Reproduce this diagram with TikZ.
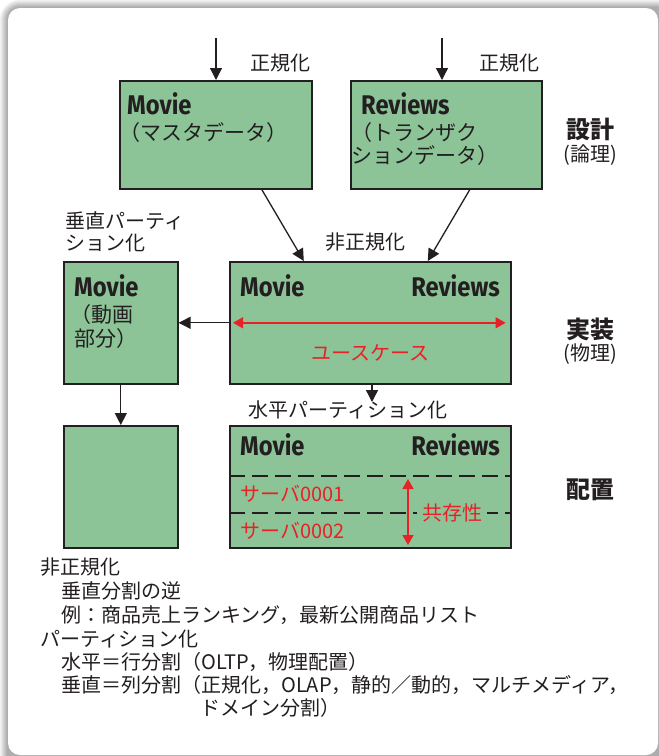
\documentclass[tikz,border=0pt]{standalone}
\usepackage{fontspec}
\usetikzlibrary{arrows.meta}
\newfontfamily\jp{Noto Sans CJK JP}
\newfontfamily\hd[FakeStretch=0.88]{Fira Sans}
\definecolor{boxgreen}{RGB}{140,196,152}
\definecolor{ared}{RGB}{232,33,39}
\definecolor{ink}{RGB}{35,31,32}
\tikzset{
  tbl/.style={draw=ink, line width=1.6pt, fill=boxgreen, inner sep=0pt, anchor=north west},
  jpt/.style={font=\jp\fontsize{20}{24}\selectfont, inner sep=0pt, text=ink},
  jpbox/.style={font=\jp\fontsize{21}{24}\selectfont, inner sep=0pt, text=ink},
  jpred/.style={font=\jp\fontsize{20}{24}\selectfont, inner sep=0pt, text=ared},
  layer/.style={font=\jp\bfseries\fontsize{24}{28}\selectfont, inner sep=0pt, text=ink},
  hdt/.style={font=\hd\bfseries\fontsize{27}{30}\selectfont, inner sep=0pt, text=ink},
  arr/.style={-{Triangle[length=12pt,width=12pt]}, line width=1.3pt, draw=ink},
  rarr/.style={{Triangle[length=10pt,width=11pt]}-{Triangle[length=10pt,width=11pt]}, line width=1.4pt, draw=ared},
  dline/.style={draw=ink, line width=2.2pt, dash pattern=on 16pt off 7pt}
}
\begin{document}
\begin{tikzpicture}[x=1pt,y=-1pt]
\useasboundingbox (0,0) rectangle (659,756);
\clip (0,0) rectangle (659,756);
% frame with shadow
\fill[white] (0,0) rectangle (659,756);
\foreach \i/\c in {8/5,7/9,6/13,5/17,4/21,3/25,2/29,1/32}{
  \fill[black!\c, rounded corners=12+\i] (8-\i,8-\i) rectangle (700,800);
}
\fill[white, rounded corners=12] (8,8) rectangle (658,755);

% design layer
\node[tbl, minimum width=192pt, minimum height=108pt] (mvA) at (119,80) {};
\node[tbl, minimum width=191pt, minimum height=108pt] (rvA) at (350,80) {};
\node[hdt, anchor=base west] (mvAt) at (127,114) {Movie};
\node[jpbox, anchor=west] (mvAj) at (119,133) {（マスタデータ）};
\node[hdt, anchor=base west] (rvAt) at (361,114) {Reviews};
\node[jpbox, anchor=west] (rvAj1) at (351,133) {（トランザク};
\node[jpbox, anchor=west] (rvAj2) at (351,156) {ションデータ）};

\coordinate (inA) at (216,38);
\coordinate (inB) at (442,38);
\draw[arr] (inA) -- (inA |- mvA.north);
\draw[arr] (inB) -- (inB |- rvA.north);
\node[jpt, anchor=west] (nrmA) at (250,63) {正規化};
\node[jpt, anchor=west] (nrmB) at (479,63) {正規化};

\node[layer] (l1) at (590,129) {設計};
\node[jpt] (l1b) at (590,155) {(論理)};

% implementation layer
\node[tbl, minimum width=114pt, minimum height=122pt] (mvB) at (63,261) {};
\node[tbl, minimum width=281pt, minimum height=122pt] (mid) at (229,261) {};
\node[hdt, anchor=base west] (mvBt) at (74,296) {Movie};
\node[jpbox, anchor=west] (mvBj1) at (70,315) {（動画};
\node[jpbox, anchor=west] (mvBj2) at (74,339) {部分）};
\node[hdt, anchor=base west] (midA) at (240,296) {Movie};
\node[hdt, anchor=base east] (midB) at (500,296) {Reviews};
\draw[rarr] ([xshift=4pt]mid.west) -- ([xshift=-6pt]mid.east);
\node[jpred] (uc) at (370,353) {ユースケース};

\draw[arr] ([xshift=46pt]mvA.south) -- ([xshift=-66.5pt]mid.north);
\draw[arr] ([xshift=23.5pt]rvA.south) -- ([xshift=57.5pt]mid.north);
\node[jpt] (dn) at (365,242) {非正規化};
\node[jpt, anchor=west, align=left, font=\jp\fontsize{20}{21.5}\selectfont] (vp) at (65,232) {垂直パーティ\\ション化};
\draw[arr] (mid.west) -- (mvB.east);

\node[layer] (l2) at (590,329) {実装};
\node[jpt] (l2b) at (590,354) {(物理)};

% placement layer
\node[tbl, minimum width=114pt, minimum height=122pt] (plain) at (63,425) {};
\node[tbl, minimum width=281pt, minimum height=122pt] (bot) at (229,425) {};
\draw[arr] (mvB.south) -- (plain.north);
\coordinate (hpEnd) at (372,402);
\draw[arr] (hpEnd |- mid.south) -- (hpEnd);
\node[jpt, anchor=west] (hp) at (248,410) {水平パーティション化};

\node[hdt, anchor=base west] (botA) at (240,455) {Movie};
\node[hdt, anchor=base east] (botB) at (500,455) {Reviews};
\draw[dline] (bot.west |- 0,476) -- (bot.east |- 0,476);
\draw[dline] (bot.west |- 0,513) -- (bot.east |- 0,513);
\node[jpred, anchor=west] (s1) at (240,494) {サーバ0001};
\node[jpred, anchor=west] (s2) at (240,531) {サーバ0002};
\node[jpred, fill=boxgreen, inner xsep=5pt, inner ysep=2pt] (co) at (452,513) {共存性};
\coordinate (cA) at (408,479);
\coordinate (cB) at (408,545);
\draw[rarr] (cA) -- (cB);

\node[layer] (l3) at (590,490) {配置};

% notes
\node[jpt, anchor=west] (t1) at (40,567) {非正規化};
\node[jpt, anchor=west] (t2) at (61,591) {垂直分割の逆};
\node[jpt, anchor=west] (t3) at (61,615) {例：商品売上ランキング，最新公開商品リスト};
\node[jpt, anchor=west] (t4) at (40,639) {パーティション化};
\node[jpt, anchor=west] (t5) at (61,662) {水平＝行分割（OLTP，物理配置）};
\node[jpt, anchor=west] (t6) at (61,685) {垂直＝列分割（正規化，OLAP，静的／動的，マルチメディア，};
\node[jpt, anchor=west] (t7) at (200,708) {ドメイン分割）};
\end{tikzpicture}
\end{document}
